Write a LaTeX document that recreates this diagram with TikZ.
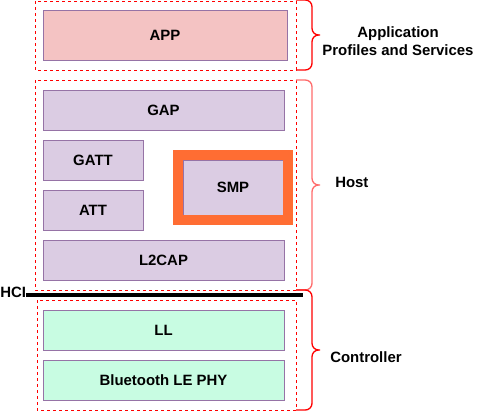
\documentclass[tikz,border=0pt]{standalone}
\usepackage{fontspec}
\setmainfont{Liberation Sans}
\usepackage{tikz}
\usetikzlibrary{fit}
\definecolor{appfill}{HTML}{F4C3C3}
\definecolor{hostfill}{HTML}{DBCCE3}
\definecolor{ctrlfill}{HTML}{C8FCE2}
\definecolor{layerline}{HTML}{9673A6}
\definecolor{smporange}{HTML}{FF6D33}
\definecolor{hostbrace}{HTML}{FF6B6B}
\newcommand{\stackfont}{\bfseries\fontsize{11.2}{13.5}\selectfont}
% side bracket: top y, bottom y
\newcommand{\sidebrace}[3][]{%
  \draw[bracket,#1] (296,#2) -- (312,#2) -- (312,{(#2+#3)/2}) -- (320,{(#2+#3)/2})
                    (296,#3) -- (312,#3) -- (312,{(#2+#3)/2}) -- (320,{(#2+#3)/2});}

\begin{document}
\begin{tikzpicture}[x=0.75pt, y=-0.75pt,
    layer/.style={draw=layerline, line width=0.75pt, inner sep=0pt, font=\stackfont},
    group/.style={draw=red, line width=0.75pt, dash pattern=on 2.25pt off 2.25pt},
    bracket/.style={draw=red, line width=1pt, rounded corners=5pt},
    side/.style={font=\stackfont, inner sep=0pt}]
    \useasboundingbox (0,0) rectangle (492,411);

    % Dashed groups
    \draw[group] (35,1) rectangle (296,70);
    \draw[group] (35,80) rectangle (296,290);
    \draw[group] (37,300) rectangle (296,410);

    % Application
    \node[layer, fill=appfill, minimum width=183pt, minimum height=37.5pt] (app) at (165,35) {APP};

    % Host
    \node[layer, fill=hostfill, minimum width=180.75pt, minimum height=30pt] (gap) at (163.5,110) {GAP};
    \node[layer, fill=hostfill, minimum width=75pt, minimum height=30pt] (gatt) at (93,160) {GATT};
    \node[layer, fill=hostfill, minimum width=75pt, minimum height=30pt] (att) at (93,210) {ATT};
    \node[layer, fill=hostfill, minimum width=75pt, minimum height=41.25pt] (smp) at (233,187.5) {SMP};
    \node[draw=smporange, line width=7.5pt, fit=(smp), inner sep=3.4pt] (smpframe) {};
    \node[layer, fill=hostfill, minimum width=180.75pt, minimum height=30pt] (l2cap) at (163.5,260) {L2CAP};

    % Controller
    \node[layer, fill=ctrlfill, minimum width=180.75pt, minimum height=30pt] (ll) at (163.5,330) {LL};
    \node[layer, fill=ctrlfill, minimum width=180.75pt, minimum height=30pt] (phy) at (163.5,380) {Bluetooth LE PHY};

    % HCI
    \node[side, anchor=west] (hci) at (0,292) {HCI};
    \coordinate (hciend) at (303,295);
    \draw[line width=3pt] (hci.east |- hciend) -- (hciend);

    % Braces and labels
    \sidebrace{0}{70}
    \sidebrace[draw=hostbrace]{80}{290}
    \sidebrace{290}{410}
    \node[side, align=center] (applabel) at (398,41) {Application\\Profiles and Services};
    \node[side, anchor=west] (hostlabel) at (335,182) {Host};
    \node[side, anchor=west] (ctrllabel) at (330,357) {Controller};
\end{tikzpicture}
\end{document}
